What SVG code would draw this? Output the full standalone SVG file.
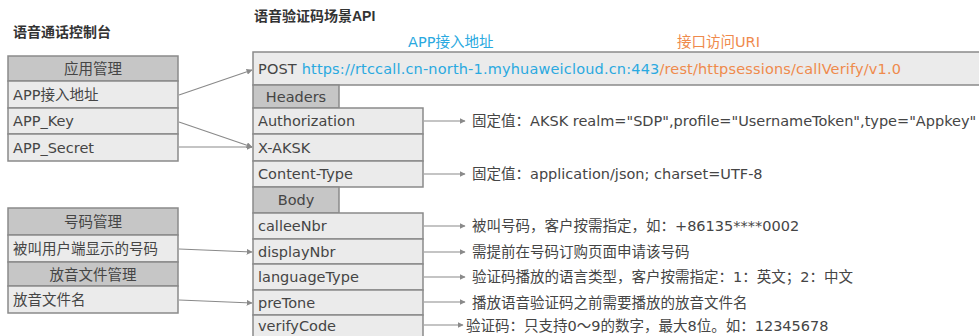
<svg xmlns="http://www.w3.org/2000/svg" width="979" height="336" viewBox="0 0 979 336">
<defs>
<style>
text{font-family:"DejaVu Sans","Noto Sans CJK SC",sans-serif;fill:#454545;font-size:14.5px}
.t{font-family:"Liberation Sans","Noto Sans CJK SC",sans-serif;font-weight:bold;font-size:14px;fill:#333}
.h{fill:#c6c6c6;stroke:#8a8a8a;stroke-width:1.5}
.r{fill:#ebebeb;stroke:#8a8a8a;stroke-width:1.5}
.c{text-anchor:middle}
.blue{fill:#2aa9e0}
.org{fill:#ef8a4c}
.ln{stroke:#8a8a8a;stroke-width:1.2;fill:none;marker-end:url(#ah)}
</style>
<marker id="ah" viewBox="0 0 10 10" refX="9" refY="5" markerWidth="6" markerHeight="6" orient="auto" markerUnits="userSpaceOnUse">
<path d="M0,0 L10,5 L0,10 z" fill="#8a8a8a"/>
</marker>
</defs>
<rect width="979" height="336" fill="#fff"/>
<text class="t" x="13" y="37">语音通话控制台</text>
<text class="t" x="254" y="21">语音验证码场景API</text>
<text class="blue" x="408" y="47">APP接入地址</text>
<text class="org" x="677" y="47">接口访问URI</text>

<g id="app-mgmt">
<rect class="h" x="8" y="56" width="170" height="25"/>
<text class="c" x="93" y="74">应用管理</text>
<rect class="r" x="8" y="81" width="170" height="27"/>
<text x="13" y="100">APP接入地址</text>
<rect class="r" x="8" y="108" width="170" height="26"/>
<text x="13" y="126">APP_Key</text>
<rect class="r" x="8" y="134" width="170" height="27"/>
<text x="13" y="153">APP_Secret</text>
</g>

<g id="num-mgmt">
<rect class="h" x="8" y="208" width="170" height="27"/>
<text class="c" x="93" y="227">号码管理</text>
<rect class="r" x="8" y="235" width="170" height="27"/>
<text x="13" y="254">被叫用户端显示的号码</text>
</g>
<g id="tone-mgmt">
<rect class="h" x="8" y="262" width="170" height="24"/>
<text class="c" x="93" y="280">放音文件管理</text>
<rect class="r" x="8" y="286" width="170" height="27"/>
<text x="13" y="305">放音文件名</text>
</g>

<g id="post">
<rect class="r" x="253" y="52" width="740" height="33"/>
<text x="258" y="74" textLength="643" lengthAdjust="spacing">POST <tspan class="blue">https://rtccall.cn-north-1.myhuaweicloud.cn:443</tspan><tspan class="org">/rest/httpsessions/callVerify/v1.0</tspan></text>
</g>
<g id="headers">
<rect class="h" x="253" y="85" width="86" height="23"/>
<text class="c" x="296" y="102">Headers</text>
<rect class="r" x="253" y="108" width="170" height="26"/>
<text x="258" y="126">Authorization</text>
<rect class="r" x="253" y="134" width="170" height="27"/>
<text x="258" y="153">X-AKSK</text>
<rect class="r" x="253" y="161" width="170" height="26"/>
<text x="258" y="179">Content-Type</text>
</g>
<g id="body">
<rect class="h" x="253" y="187" width="86" height="26"/>
<text class="c" x="296" y="205">Body</text>
<rect class="r" x="253" y="213" width="170" height="26"/>
<text x="258" y="231">calleeNbr</text>
<rect class="r" x="253" y="239" width="170" height="25"/>
<text x="258" y="257">displayNbr</text>
<rect class="r" x="253" y="264" width="170" height="26"/>
<text x="258" y="282">languageType</text>
<rect class="r" x="253" y="290" width="170" height="25"/>
<text x="258" y="308">preTone</text>
<rect class="r" x="253" y="315" width="170" height="30"/>
<text x="258" y="331">verifyCode</text>
</g>

<g id="notes">
<text x="472" y="126">固定值：AKSK realm="SDP",profile="UsernameToken",type="Appkey"</text>
<text x="472" y="179">固定值：application/json; charset=UTF-8</text>
<text x="472" y="231">被叫号码，客户按需指定，如：+86135****0002</text>
<text x="472" y="257">需提前在号码订购页面申请该号码</text>
<text x="472" y="282">验证码播放的语言类型，客户按需指定：1：英文；2：中文</text>
<text x="472" y="308">播放语音验证码之前需要播放的放音文件名</text>
<text x="466" y="331">验证码：只支持0～9的数字，最大8位。如：12345678</text>
</g>

<g id="connectors">
<path class="ln" d="M179,95 L252,70"/>
<path class="ln" d="M179,122 L252,147"/>
<path class="ln" d="M179,147 L252,147"/>
<path class="ln" d="M179,249 L252,252"/>
<path class="ln" d="M179,300 L252,303"/>
<path class="ln" d="M424,121 L465,121"/>
<path class="ln" d="M424,174 L465,174"/>
<path class="ln" d="M424,226 L465,226"/>
<path class="ln" d="M424,252 L465,252"/>
<path class="ln" d="M424,277 L465,277"/>
<path class="ln" d="M424,302 L465,302"/>
<path class="ln" d="M424,325 L463,325"/>
</g>
</svg>
